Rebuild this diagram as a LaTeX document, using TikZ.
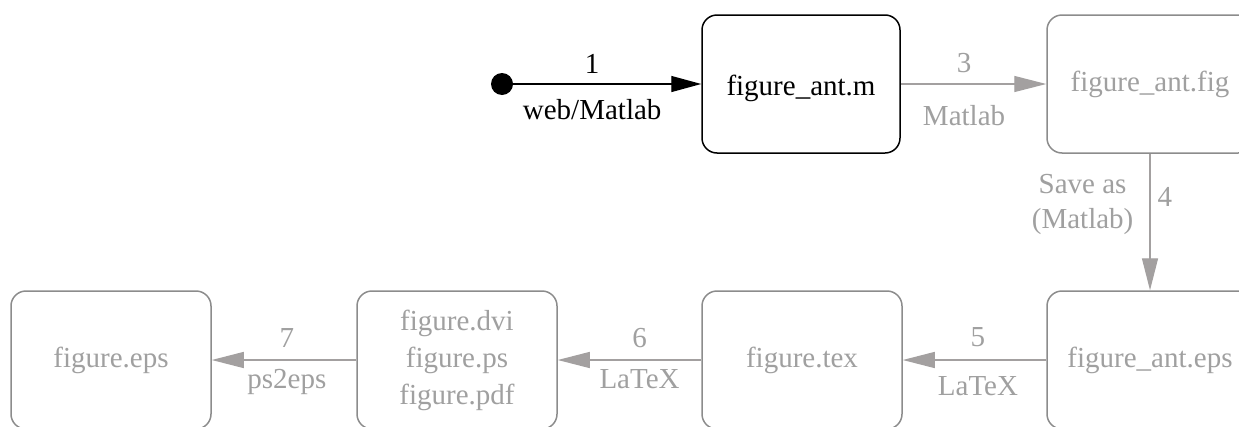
\documentclass[tikz,border=0pt]{standalone}
\usepackage{fontspec}
\setmainfont{Liberation Serif}
\usetikzlibrary{arrows.meta}
\definecolor{edgegray}{RGB}{163,160,160}
\definecolor{boxgray}{RGB}{140,140,140}
\definecolor{txtgray}{RGB}{160,160,160}
\begin{document}
\begin{tikzpicture}[x=1pt,y=-1pt,
  every node/.style={font=\fontsize{29}{36}\selectfont},
  statebox/.style={draw, line width=1.5pt, rounded corners=15pt, minimum height=138pt, inner sep=0pt},
  graybox/.style={statebox, draw=boxgray, text=txtgray},
  blackedge/.style={line width=1.3pt, -{Triangle[length=30pt,width=16pt]}},
  grayedge/.style={line width=1.3pt, draw=edgegray, -{Triangle[length=32pt,width=16pt]}},
  lbl/.style={text=txtgray, inner sep=0pt}
]
\clip (0,0) rectangle (1239,426);
\fill[white] (0,0) rectangle (1239,426);

\node[circle, fill=black, minimum size=22pt, inner sep=0pt] (start) at (502,84) {};
\node[statebox, minimum width=198pt] (m) at (801,84) {\raisebox{-4pt}[\height][\depth]{figure\_ant.m}};
\node[graybox, minimum width=206pt] (fig) at (1150,84) {figure\_ant.fig};
\node[graybox, minimum width=206pt] (anteps) at (1150,360) {figure\_ant.eps};
\node[graybox, minimum width=200pt] (tex) at (802,360) {figure.tex};
\node[graybox, minimum width=200pt, align=center, font=\fontsize{29}{37}\selectfont] (dvi) at (457,360) {figure.dvi\\figure.ps\\figure.pdf};
\node[graybox, minimum width=200pt] (feps) at (111,360) {figure.eps};

\draw[blackedge] (start) -- (m.west)
  node[pos=0.42, anchor=base, yshift=10.5pt, inner sep=0pt] {1}
  node[pos=0.42, anchor=base, yshift=-35pt, inner sep=0pt] {web/Matlab};
\draw[grayedge] (m.east) -- (fig.west)
  node[lbl, pos=0.435, anchor=base, yshift=11.5pt] {3}
  node[lbl, pos=0.435, anchor=base, yshift=-41pt] {Matlab};
\draw[grayedge] (fig.south) -- (anteps.north)
  node[lbl, pos=0.39, anchor=base west, xshift=7pt] {4}
  node[lbl, pos=0.37, anchor=east, xshift=-16pt, align=center, font=\fontsize{29}{35}\selectfont] {Save as\\(Matlab)};
\draw[grayedge] (anteps.west) -- (tex.east)
  node[lbl, pos=0.476, anchor=base, yshift=13.5pt] {5}
  node[lbl, pos=0.476, anchor=base, yshift=-35pt] {LaTeX};
\draw[grayedge] (tex.west) -- (dvi.east)
  node[lbl, pos=0.43, anchor=base, yshift=12.5pt] {6}
  node[lbl, pos=0.43, anchor=base, yshift=-28pt] {LaTeX};
\draw[grayedge] (dvi.west) -- (feps.east)
  node[lbl, pos=0.48, anchor=base, yshift=12.5pt] {7}
  node[lbl, pos=0.48, anchor=base, yshift=-28pt] {ps2eps};
\end{tikzpicture}
\end{document}
